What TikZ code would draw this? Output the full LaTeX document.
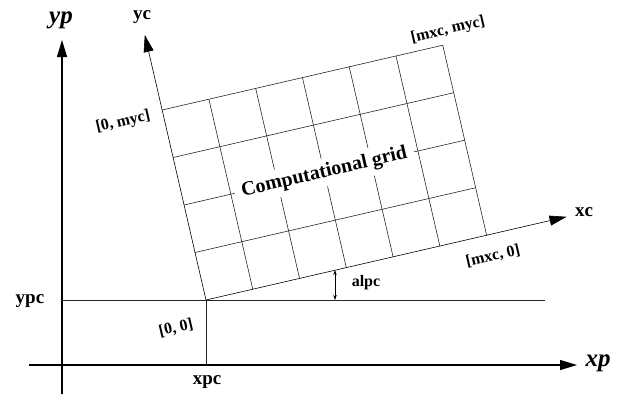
\documentclass[tikz,border=0pt]{standalone}
\usepackage{fontspec}
\setmainfont{Liberation Serif}
\usetikzlibrary{arrows.meta}
\begin{document}
\begin{tikzpicture}[x=1pt,y=-1pt,
  thinline/.style={line width=0.6pt, draw=black!85},
  mainaxis/.style={line width=1.1pt, -{Triangle[length=17pt,width=10pt]}},
  caxis/.style={line width=0.6pt, -{Triangle[length=17pt,width=10pt]}},
  lbl/.style={font=\bfseries\fontsize{16}{16}\selectfont, inner sep=1pt},
  axlbl/.style={font=\bfseries\fontsize{19}{19}\selectfont, inner sep=1pt},
  plbl/.style={font=\bfseries\itshape\fontsize{25}{25}\selectfont, inner sep=1pt}]
\useasboundingbox (0,0) rectangle (618,394);
% physical axes
\coordinate (xs) at (29,365);
\coordinate (xe) at (577,365);
\coordinate (ys) at (62,394);
\coordinate (ye) at (62,40);
\draw[mainaxis] (xs) -- (xe);
\draw[mainaxis] (ys) -- (ye);
\node[plbl] (xp) at (598,363) {xp};
\node[plbl] (yp) at (61,20) {yp};
% ypc and xpc lines
\coordinate (O) at (206,300);
\coordinate (ypcS) at (62,300);
\coordinate (ypcE) at (545,300);
\coordinate (xpcS) at (206,365);
\draw[thinline] (ypcS) -- (ypcE);
\draw[thinline] (O) -- (xpcS);
\node[axlbl] (ypc) at (30,301) {ypc};
\node[axlbl] (xpc) at (207,382) {xpc};
% rotated computational system
\begin{scope}[shift={(206pt,-300pt)}, x={(0.97437pt,0.22495pt)}, y={(-0.22495pt,0.97437pt)}]
  \foreach \i in {1,...,6} {
    \draw[thinline] ({48*\i},0) -- ({48*\i},195);
  }
  \foreach \j in {1,...,4} {
    \draw[thinline] (0,{48.75*\j}) -- (288,{48.75*\j});
  }
  \coordinate (co) at (0,0);
  \coordinate (xce) at (370,0);
  \coordinate (yce) at (0,272);
  \draw[caxis] (co) -- (xce);
  \draw[caxis] (co) -- (yce);
  \node[fill=white, inner xsep=7pt, inner ysep=5pt, rotate=13, font=\bfseries\fontsize{20}{20}\selectfont] (cg) at (144,97.5) {Computational grid};
  \coordinate (aT) at (133,0);
\end{scope}
\node[axlbl] (xc) at (584,212) {xc};
\node[axlbl] (yc) at (142,17) {yc};
% alpha marker
\coordinate (aB) at (335,300);
\draw[line width=0.6pt, {Stealth[length=5pt,width=3.5pt]}-{Stealth[length=5pt,width=3.5pt]}] (aB) -- (aB |- aT);
\node[lbl] (alpc) at (366,283) {alpc};
% corner labels
\node[lbl, rotate=13] (l00) at (176,328) {[0, 0]};
\node[lbl, rotate=13] (l0m) at (123,122) {[0, myc]};
\node[lbl, rotate=13] (lmm) at (448,30) {[mxc, myc]};
\node[lbl, rotate=13] (lm0) at (493,256) {[mxc, 0]};
\end{tikzpicture}
\end{document}
